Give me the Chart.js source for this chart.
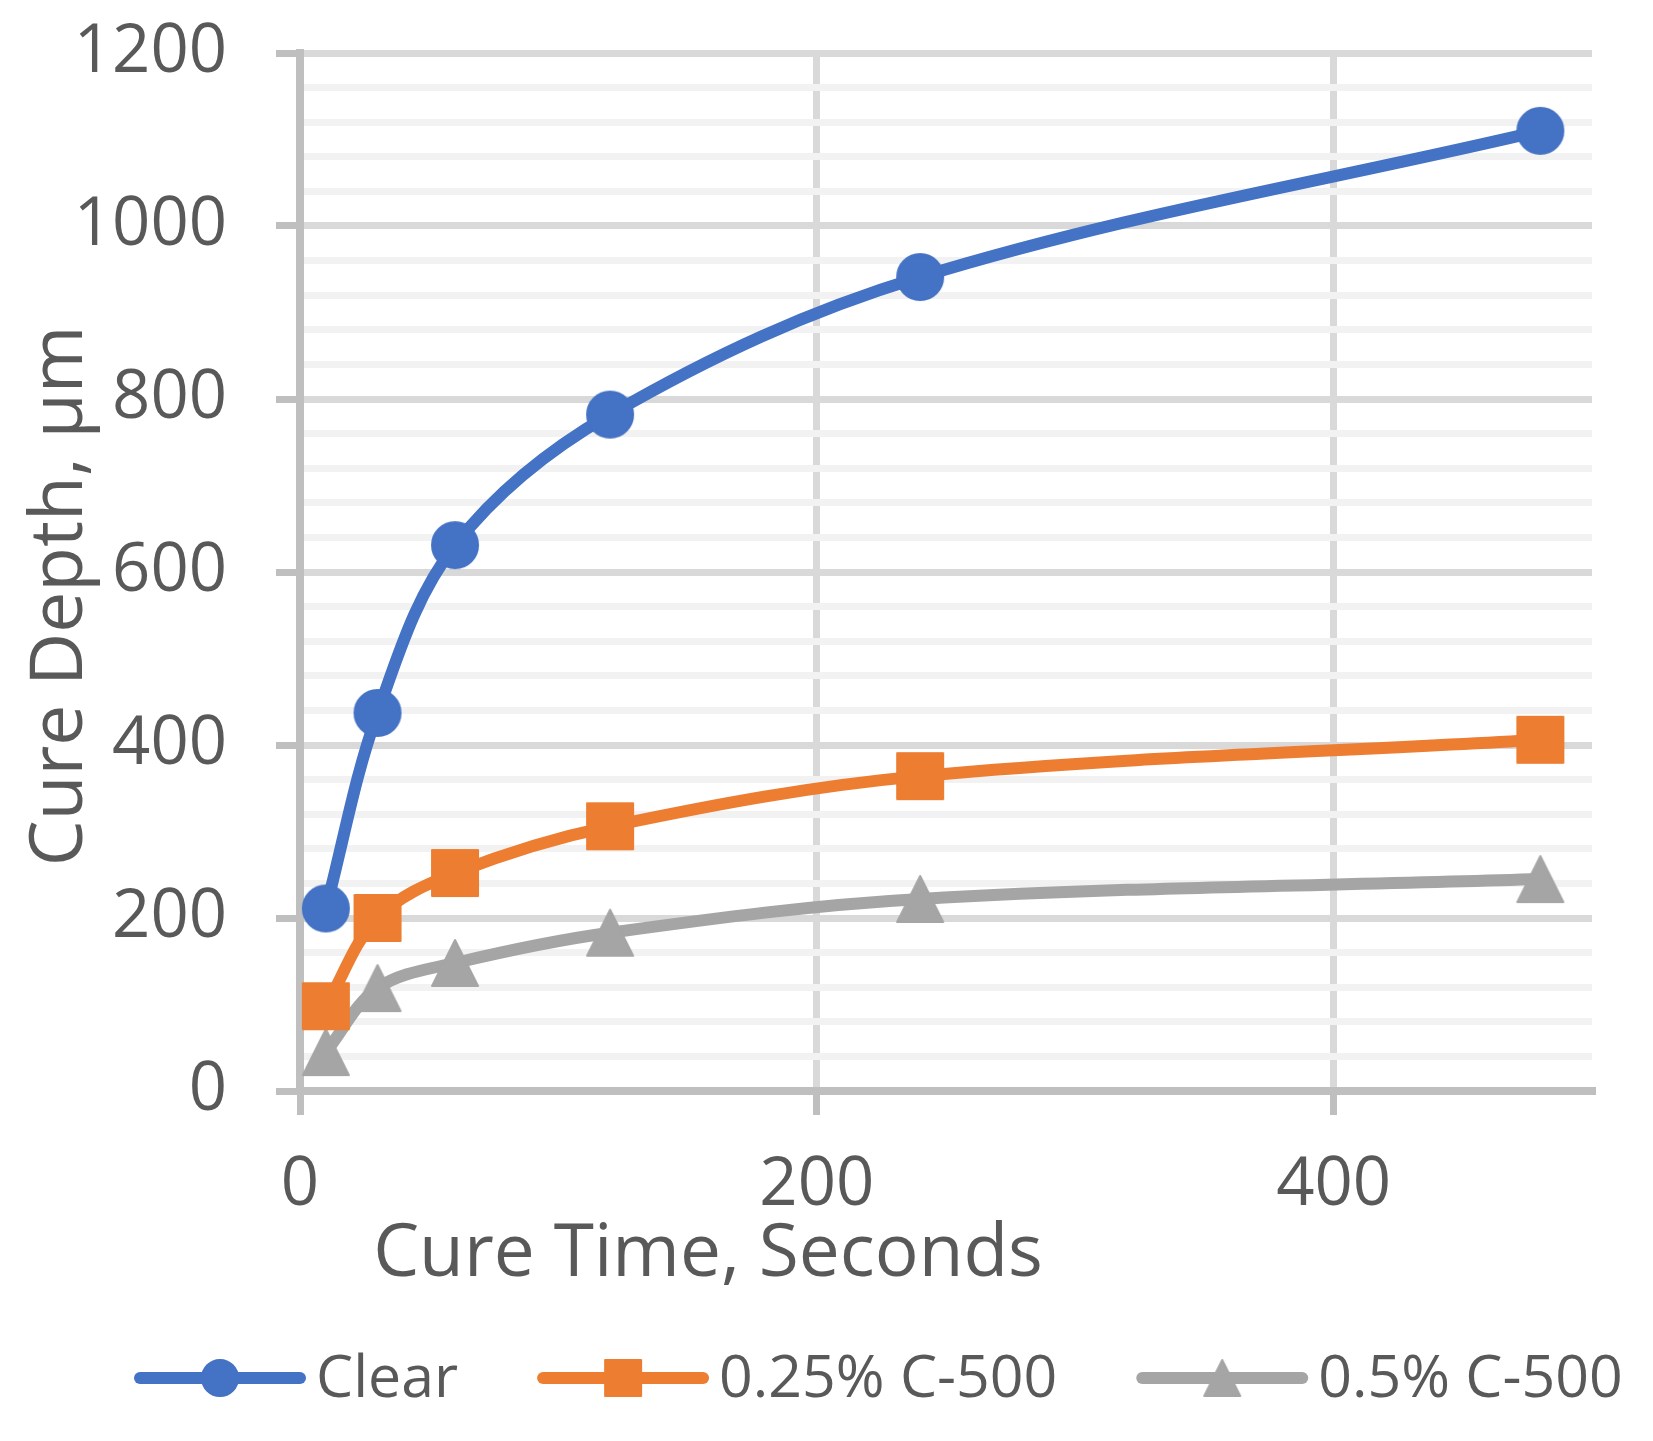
<!DOCTYPE html>
<html>
<head>
<meta charset="utf-8">
<script src="https://cdn.jsdelivr.net/npm/chart.js"></script>
<style>
  html, body { margin: 0; padding: 0; background: #fff; }
  canvas { display: block; }
</style>
</head>
<body>
<canvas id="cureChart" width="1653" height="1441"></canvas>
<script>
    // data
    const cureTime = [10, 30, 60, 120, 240, 480];
    const clearDepth = [211, 437, 631, 782, 941, 1110];
    const c025Depth = [98, 200, 252, 306, 364, 406];
    const c05Depth = [45, 119, 148, 183, 222, 245];
    const seriesNames = ['Clear', '0.25% C-500', '0.5% C-500'];
    const seriesColors = ['#4472C4', '#ED7D31', '#A5A5A5'];
    const xTickValues = [0, 200, 400];
    const yMajorStep = 200;
    const yMinorStep = 40;

    const TEXT = '#595959';
    const FONT = "'Open Sans', 'Noto Sans', sans-serif";

    // Excel-like markers (square / triangle centred on their bounding box)
    function markerCanvas(shape, color, size) {
        const c = document.createElement('canvas');
        c.width = c.height = size + 4;
        const g = c.getContext('2d');
        g.fillStyle = color;
        g.strokeStyle = color;
        g.lineWidth = 2;
        g.lineJoin = 'round';
        const m = 2;
        g.beginPath();
        if (shape === 'triangle') {
            g.moveTo(m + size / 2, m);
            g.lineTo(m + size, m + size);
            g.lineTo(m, m + size);
        } else if (shape === 'square') {
            g.rect(m, m, size, size);
        } else {
            g.arc(m + size / 2, m + size / 2, size / 2, 0, Math.PI * 2);
        }
        g.closePath();
        g.fill();
        g.stroke();
        return c;
    }

    const shapes = ['circle', 'square', 'triangle'];
    const plotMarkers = shapes.map((s, i) => markerCanvas(s, seriesColors[i], 46));
    const legendMarkers = shapes.map((s, i) => markerCanvas(s, seriesColors[i], 36));

    const depthSeries = [clearDepth, c025Depth, c05Depth];

    // axis titles + legend drawn by hand
    const decorPlugin = {
        id: 'decor',
        afterDraw(chart) {
            const ctx = chart.ctx;
            const area = chart.chartArea;
            ctx.save();
            ctx.fillStyle = TEXT;

            // x title
            ctx.font = '73px ' + FONT;
            ctx.textAlign = 'center';
            ctx.textBaseline = 'alphabetic';
            ctx.fillText('Cure Time, Seconds', area.left + 408, area.bottom + 185);

            // y title
            ctx.save();
            ctx.translate(82, 596);
            ctx.rotate(-Math.PI / 2);
            ctx.fillText('Cure Depth, µm', 0, 0);
            ctx.restore();

            // legend
            ctx.font = '59px ' + FONT;
            ctx.textAlign = 'left';
            ctx.textBaseline = 'middle';
            let x = 134;
            const y = 1378;
            seriesNames.forEach((name, i) => {
                ctx.strokeStyle = seriesColors[i];
                ctx.lineWidth = 12;
                ctx.lineCap = 'round';
                ctx.beginPath();
                ctx.moveTo(x + 6, y);
                ctx.lineTo(x + 166, y);
                ctx.stroke();
                const mk = legendMarkers[i];
                ctx.drawImage(mk, x + 86 - mk.width / 2, y - mk.height / 2);
                ctx.fillText(name, x + 182, y + 2);
                x += 182 + ctx.measureText(name).width + 79;
            });
            ctx.restore();
        }
    };

    const ctx = document.getElementById('cureChart').getContext('2d');
    new Chart(ctx, {
        type: 'line',
        data: {
            datasets: seriesNames.map((name, i) => ({
                label: name,
                data: cureTime.map((t, k) => ({ x: t, y: depthSeries[i][k] })),
                borderColor: seriesColors[i],
                backgroundColor: seriesColors[i],
                borderWidth: 12,
                borderCapStyle: 'round',
                borderJoinStyle: 'round',
                tension: 0.35,
                pointStyle: plotMarkers[i],
                pointRadius: 24,
                pointHoverRadius: 24,
                fill: false
            }))
        },
        options: {
            responsive: false,
            devicePixelRatio: 1,
            animation: false,
            layout: {
                padding: { left: 0, right: 61, top: 53, bottom: 0 }
            },
            plugins: {
                legend: { display: false },
                tooltip: { enabled: false }
            },
            scales: {
                x: {
                    type: 'linear',
                    min: 0,
                    max: 500,
                    afterBuildTicks: (s) => { s.ticks = xTickValues.map(v => ({ value: v })); },
                    afterFit: (s) => { s.height = 350; s.paddingLeft = 0; s.paddingRight = 0; },
                    grid: {
                        color: '#D9D9D9',
                        lineWidth: 7,
                        tickColor: '#BFBFBF',
                        tickLength: 24,
                        z: -1
                    },
                    border: { display: true, color: '#BFBFBF', width: 8 },
                    ticks: {
                        autoSkip: false,
                        maxRotation: 0,
                        padding: 31,
                        color: TEXT,
                        font: { size: 67, family: FONT }
                    }
                },
                y: {
                    type: 'linear',
                    min: 0,
                    max: 1200,
                    afterFit: (s) => { s.width = 300; s.paddingTop = 0; s.paddingBottom = 0; },
                    grid: {
                        color: (c) => (c.tick && c.tick.value % yMajorStep === 0) ? '#D9D9D9' : '#F2F2F2',
                        lineWidth: 7,
                        tickColor: (c) => (c.tick && c.tick.value % yMajorStep === 0) ? '#BFBFBF' : 'rgba(0,0,0,0)',
                        tickLength: 24,
                        z: -1
                    },
                    border: { display: true, color: '#BFBFBF', width: 8 },
                    ticks: {
                        stepSize: yMinorStep,
                        autoSkip: false,
                        padding: 49,
                        color: TEXT,
                        font: { size: 67, family: FONT },
                        callback: (v) => (v % yMajorStep === 0 ? v : '')
                    }
                }
            }
        },
        plugins: [decorPlugin]
    });
</script>
</body>
</html>
